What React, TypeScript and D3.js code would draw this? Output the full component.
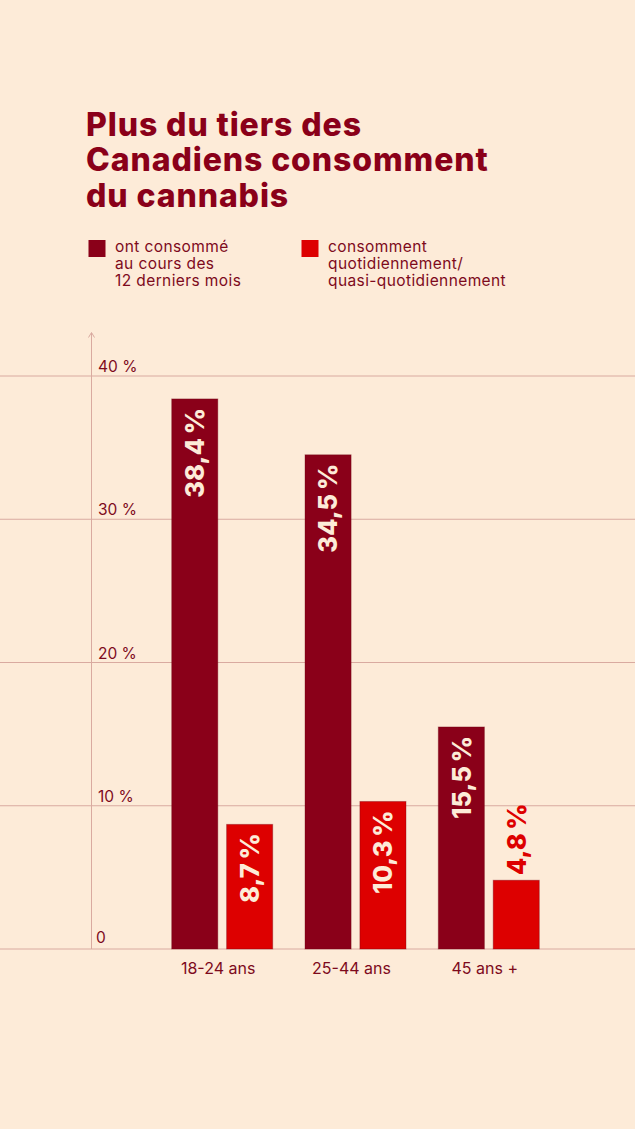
import React from "react";
import * as d3 from "d3";

const categories = ["18-24 ans", "25-44 ans", "45 ans +"];
const seriesNames = ["ont consommé au cours des 12 derniers mois", "consomment quotidiennement/ quasi-quotidiennement"];
const past12Months = [38.4, 34.5, 15.5];
const daily = [8.7, 10.3, 4.8];
const yTicks = [0, 10, 20, 30, 40];
const titleLines = ["Plus du tiers des", "Canadiens consomment", "du cannabis"];
const legend1 = ["ont consommé", "au cours des", "12 derniers mois"];
const legend2 = ["consomment", "quotidiennement/", "quasi-quotidiennement"];

const BG = "#fdebd8";
const DARK = "#8a0019";
const RED = "#dd0000";
const TEXT = "#7d0a1c";
const GRID = "#d9aaa0";
const FONT = "Inter, 'Noto Sans', sans-serif";

const fmt = (v: number) => v.toFixed(1).replace(".", ",") + "\u2009%";

export default function App() {
  const W = 635, H = 1129;
  const y = d3.scaleLinear().domain([0, 40]).range([949, 376]);
  const x0 = d3.scaleBand().domain(categories).range([171.7, 571.6]).paddingInner(0).paddingOuter(0);
  const x1 = d3.scaleBand().domain(["a", "b"]).range([0, 101]).paddingInner(0.16);
  const bw = x1.bandwidth();
  const series = [
    { key: "a", values: past12Months, color: DARK },
    { key: "b", values: daily, color: RED },
  ];
  return (
    <svg width={W} height={H} style={{ display: "block", position: "absolute", left: 0, top: 0 }} fontFamily={FONT}>
      <rect x={0} y={0} width={W} height={H} fill={BG} />
      {titleLines.map((t, i) => (
        <text key={i} x={86} y={136 + i * 35.3} fontSize={32} fontWeight={800} fill={DARK} letterSpacing={0.9}>{t}</text>
      ))}
      <rect x={88.5} y={240} width={17} height={17} fill={DARK} />
      {legend1.map((t, i) => (
        <text key={i} x={115} y={251.5 + i * 17} fontSize={15.5} letterSpacing={0.4} fill={TEXT}>{t}</text>
      ))}
      <rect x={301.5} y={240} width={17} height={17} fill={RED} />
      {legend2.map((t, i) => (
        <text key={i} x={328} y={251.5 + i * 17} fontSize={15.5} letterSpacing={0.4} fill={TEXT}>{t}</text>
      ))}
      {yTicks.map((t) => (
        <g key={t}>
          <line x1={0} x2={W} y1={y(t)} y2={y(t)} stroke={GRID} strokeWidth={1} />
          <text x={t === 0 ? 96 : 98} y={y(t) - (t === 0 ? 6 : 4)} fontSize={15.5} fill={TEXT}>{t === 0 ? "0" : `${t} %`}</text>
        </g>
      ))}
      <line x1={91.5} x2={91.5} y1={333} y2={949} stroke={GRID} strokeWidth={1} />
      <path d="M88.5,337.5 L91.5,332.5 L94.5,337.5" fill="none" stroke={GRID} strokeWidth={1} />
      {categories.map((c, i) => (
        <g key={c} transform={`translate(${x0(c)},0)`}>
          {series.map((s) => {
            const v = s.values[i];
            const bx = x1(s.key)!;
            const top = y(v);
            const inside = top < y(0) - 90;
            const cx = bx + bw / 2;
            return (
              <g key={s.key}>
                <rect x={bx} y={top} width={bw} height={y(0) - top} fill={s.color} stroke="#6e0012" strokeOpacity={0.35} strokeWidth={1} />
                <text
                  transform={`translate(${cx + 9.3},${inside ? top + 9 : top - 5}) rotate(-90)`}
                  textAnchor={inside ? "end" : "start"}
                  fontSize={25.5}
                  fontWeight={800}
                  fill={inside ? BG : RED}
                >
                  {fmt(v)}
                </text>
              </g>
            );
          })}
          <text x={x1.range()[1] / 2 - 4} y={974} textAnchor="middle" fontSize={16} fill={TEXT}>{c}</text>
        </g>
      ))}
    </svg>
  );
}
